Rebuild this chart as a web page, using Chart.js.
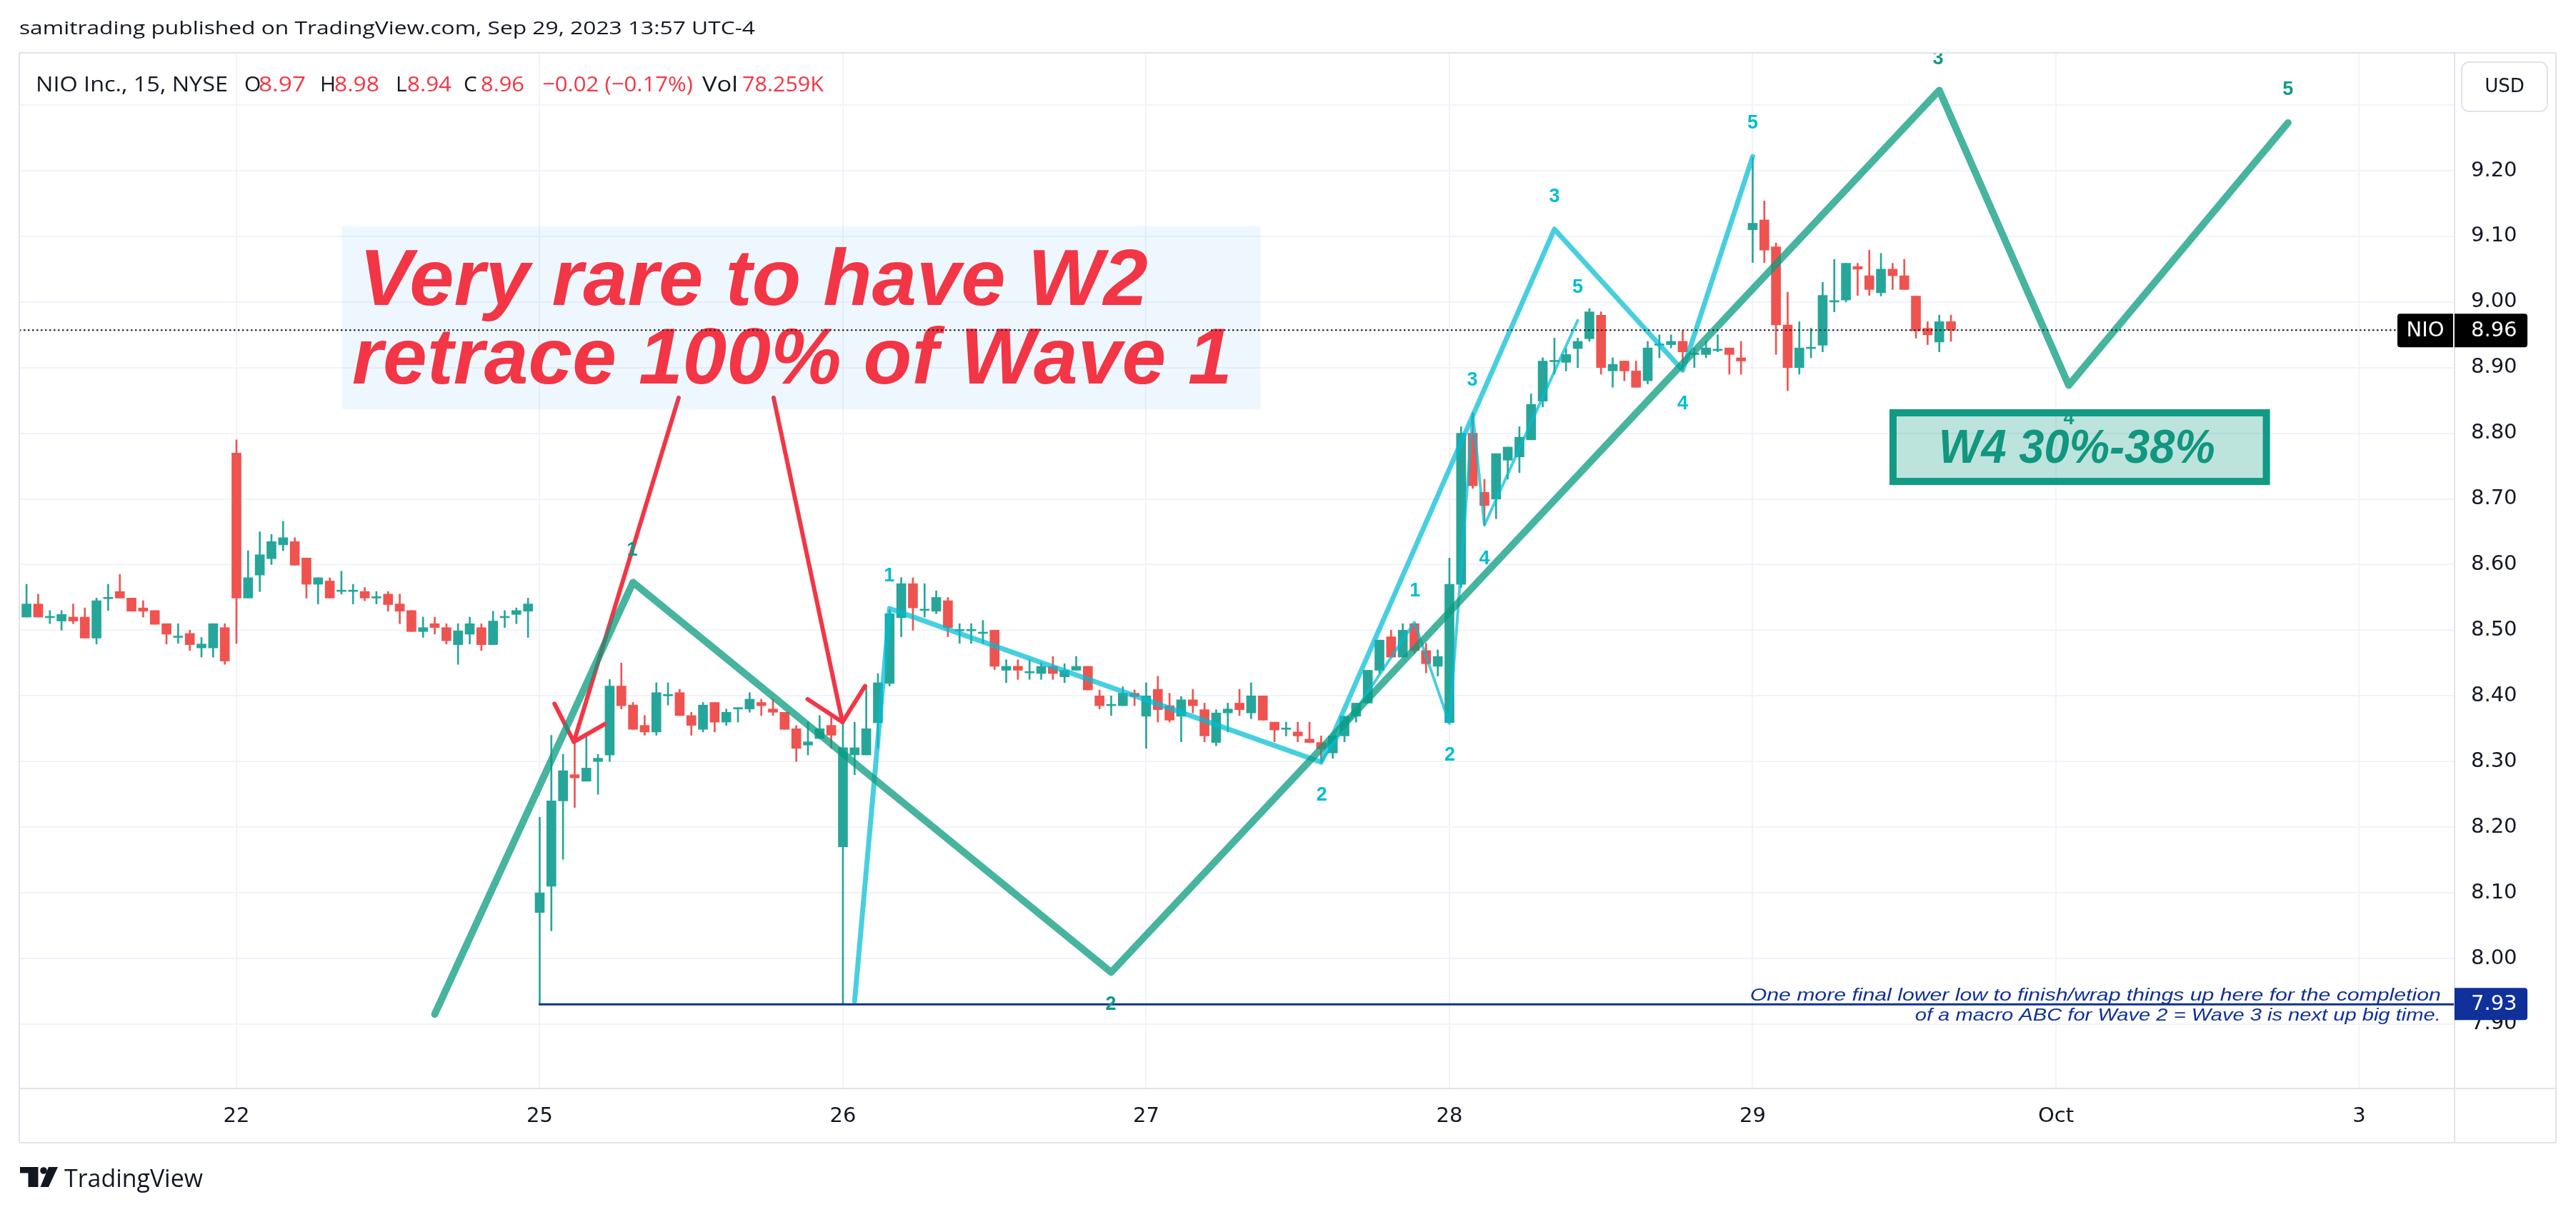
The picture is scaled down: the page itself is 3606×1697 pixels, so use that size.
<!DOCTYPE html>
<html>
<head>
<meta charset="utf-8">
<title>NIO 15m</title>
<script src="https://cdn.jsdelivr.net/npm/chart.js@4.4.0/dist/chart.umd.min.js"></script>
<style>
  html, body { margin: 0; padding: 0; background: #ffffff; }
  canvas { display: block; }
</style>
</head>
<body>
<canvas id="myChart" width="3606" height="1697"></canvas>
<script>
// 15 min bars, Sep 21 (last 18) .. Sep 29 (first 18)
const opens = [
  8.52, 8.54, 8.519, 8.514, 8.52, 8.52, 8.488, 8.548, 8.559, 8.549, 8.534, 8.53, 8.51, 8.489, 8.495, 8.473, 8.473, 8.504,
  8.77, 8.549, 8.584, 8.609, 8.63, 8.635, 8.61, 8.57, 8.575, 8.559, 8.559, 8.559, 8.549, 8.555, 8.54, 8.53, 8.498, 8.51, 8.504, 8.478, 8.494, 8.504, 8.478, 8.519, 8.524, 8.529,
  8.07, 8.11, 8.24, 8.28, 8.27, 8.30, 8.31, 8.415, 8.386, 8.355, 8.345, 8.40, 8.405, 8.37, 8.349, 8.39, 8.36, 8.38, 8.38, 8.39, 8.38, 8.375, 8.35, 8.325, 8.335, 8.355,
  8.17, 8.31, 8.31, 8.359, 8.419, 8.519, 8.571, 8.53, 8.529, 8.545, 8.499, 8.499, 8.495, 8.50, 8.439, 8.445, 8.435, 8.434, 8.445, 8.429, 8.439, 8.445, 8.40, 8.385, 8.385, 8.404,
  8.369, 8.41, 8.385, 8.369, 8.394, 8.379, 8.329, 8.374, 8.389, 8.374, 8.40, 8.36, 8.349, 8.345, 8.334, 8.329, 8.313, 8.339, 8.369, 8.389, 8.439, 8.49, 8.459, 8.51, 8.469, 8.445,
  8.359, 8.57, 8.80, 8.71, 8.70, 8.759, 8.764, 8.79, 8.849, 8.909, 8.908, 8.929, 8.944, 8.98, 8.895, 8.91, 8.895, 8.88, 8.934, 8.935, 8.94, 8.92, 8.92, 8.926, 8.93, 8.915,
  9.11, 9.125, 9.084, 8.965, 8.90, 8.929, 8.934, 9.0, 9.003, 9.054, 9.04, 9.014, 9.05, 9.04, 9.009, 8.96, 8.939, 8.97
];
const highs = [
  8.57, 8.555, 8.53, 8.53, 8.54, 8.534, 8.549, 8.57, 8.585, 8.549, 8.545, 8.53, 8.51, 8.51, 8.50, 8.489, 8.51, 8.51,
  8.79, 8.621, 8.65, 8.646, 8.666, 8.641, 8.61, 8.58, 8.58, 8.59, 8.57, 8.565, 8.559, 8.559, 8.555, 8.53, 8.52, 8.52, 8.51, 8.51, 8.52, 8.51, 8.529, 8.53, 8.534, 8.549,
  8.215, 8.34, 8.311, 8.328, 8.34, 8.311, 8.425, 8.45, 8.39, 8.37, 8.42, 8.42, 8.41, 8.375, 8.39, 8.39, 8.38, 8.382, 8.405, 8.395, 8.395, 8.375, 8.355, 8.36, 8.37, 8.37,
  8.36, 8.36, 8.415, 8.434, 8.531, 8.58, 8.58, 8.571, 8.56, 8.55, 8.51, 8.51, 8.515, 8.50, 8.455, 8.455, 8.455, 8.45, 8.46, 8.449, 8.46, 8.445, 8.409, 8.40, 8.414, 8.409,
  8.42, 8.43, 8.404, 8.399, 8.41, 8.389, 8.379, 8.389, 8.41, 8.42, 8.40, 8.36, 8.36, 8.36, 8.36, 8.339, 8.339, 8.369, 8.389, 8.439, 8.485, 8.50, 8.51, 8.51, 8.48, 8.47,
  8.61, 8.81, 8.83, 8.73, 8.769, 8.779, 8.81, 8.86, 8.915, 8.945, 8.929, 8.945, 8.99, 8.985, 8.915, 8.91, 8.91, 8.94, 8.95, 8.95, 8.956, 8.93, 8.94, 8.95, 8.93, 8.94,
  9.22, 9.154, 9.09, 9.015, 8.97, 8.96, 9.03, 9.065, 9.059, 9.059, 9.079, 9.074, 9.059, 9.065, 9.009, 8.97, 8.98, 8.98
];
const lows = [
  8.52, 8.52, 8.51, 8.50, 8.51, 8.488, 8.479, 8.53, 8.549, 8.529, 8.52, 8.509, 8.479, 8.48, 8.469, 8.459, 8.459, 8.448,
  8.48, 8.549, 8.559, 8.60, 8.621, 8.599, 8.549, 8.54, 8.549, 8.555, 8.54, 8.545, 8.54, 8.529, 8.51, 8.498, 8.489, 8.494, 8.479, 8.448, 8.479, 8.469, 8.478, 8.504, 8.51, 8.489,
  7.93, 8.042, 8.151, 8.23, 8.27, 8.25, 8.30, 8.38, 8.349, 8.34, 8.34, 8.386, 8.37, 8.34, 8.345, 8.345, 8.355, 8.36, 8.375, 8.37, 8.37, 8.349, 8.30, 8.31, 8.335, 8.32,
  7.93, 8.28, 8.31, 8.32, 8.415, 8.49, 8.50, 8.52, 8.525, 8.49, 8.48, 8.48, 8.48, 8.44, 8.42, 8.425, 8.425, 8.425, 8.425, 8.42, 8.439, 8.409, 8.38, 8.37, 8.385, 8.385,
  8.32, 8.36, 8.36, 8.33, 8.374, 8.33, 8.324, 8.345, 8.37, 8.365, 8.363, 8.33, 8.339, 8.33, 8.329, 8.30, 8.305, 8.33, 8.36, 8.389, 8.434, 8.459, 8.459, 8.465, 8.435, 8.43,
  8.359, 8.565, 8.716, 8.66, 8.67, 8.73, 8.74, 8.79, 8.84, 8.89, 8.895, 8.90, 8.94, 8.89, 8.87, 8.88, 8.87, 8.875, 8.915, 8.93, 8.895, 8.90, 8.915, 8.924, 8.89, 8.89,
  9.06, 9.06, 8.92, 8.865, 8.89, 8.915, 8.924, 8.985, 9.0, 9.01, 9.01, 9.009, 9.019, 9.019, 8.945, 8.935, 8.924, 8.94
];
const closes = [
  8.54, 8.52, 8.521, 8.524, 8.514, 8.488, 8.545, 8.549, 8.549, 8.529, 8.529, 8.509, 8.494, 8.49, 8.478, 8.479, 8.51, 8.453,
  8.549, 8.58, 8.615, 8.635, 8.641, 8.599, 8.57, 8.58, 8.549, 8.56, 8.56, 8.549, 8.55, 8.539, 8.529, 8.498, 8.504, 8.504, 8.484, 8.499, 8.51, 8.478, 8.514, 8.52, 8.53, 8.54,
  8.10, 8.24, 8.286, 8.275, 8.29, 8.305, 8.415, 8.385, 8.349, 8.345, 8.405, 8.401, 8.37, 8.355, 8.386, 8.36, 8.375, 8.381, 8.395, 8.385, 8.375, 8.349, 8.32, 8.33, 8.35, 8.34,
  8.321, 8.321, 8.35, 8.42, 8.525, 8.571, 8.534, 8.531, 8.55, 8.504, 8.50, 8.50, 8.496, 8.445, 8.445, 8.439, 8.436, 8.445, 8.434, 8.439, 8.445, 8.409, 8.385, 8.386, 8.404, 8.399,
  8.40, 8.379, 8.363, 8.394, 8.385, 8.339, 8.374, 8.38, 8.379, 8.40, 8.363, 8.348, 8.35, 8.339, 8.329, 8.319, 8.339, 8.369, 8.389, 8.439, 8.485, 8.459, 8.50, 8.469, 8.449, 8.46,
  8.57, 8.80, 8.72, 8.69, 8.769, 8.779, 8.794, 8.844, 8.91, 8.91, 8.92, 8.94, 8.985, 8.90, 8.905, 8.895, 8.87, 8.93, 8.935, 8.94, 8.924, 8.921, 8.93, 8.927, 8.92, 8.91,
  9.12, 9.079, 8.965, 8.90, 8.93, 8.93, 9.01, 9.001, 9.059, 9.05, 9.019, 9.05, 9.04, 9.019, 8.956, 8.95, 8.97, 8.957
];

// time axis (bar index) and price axis ticks
const dayTicks = [18, 44, 70, 96, 122, 148, 174, 200];
const dayLabels = ['22', '25', '26', '27', '28', '29', 'Oct', '3'];
const priceTicks = [7.9, 8.0, 8.1, 8.2, 8.3, 8.4, 8.5, 8.6, 8.7, 8.8, 8.9, 9.0, 9.1, 9.2, 9.3];

// elliott wave drawings (bar index, price)
const greenWaveX = [35, 52, 93, 164, 175.1, 193.9];
const greenWaveY = [7.915, 8.573, 7.979, 9.3225, 8.873, 9.273];
const cyanOuterX = [71, 74, 111, 131, 142, 148];
const cyanOuterY = [7.935, 8.533, 8.299, 9.111, 8.896, 9.2216];
const cyanInnerX = [111, 119, 122, 124, 125, 133];
const cyanInnerY = [8.299, 8.512, 8.358, 8.83, 8.66, 8.972];

const waveNames = ['1', '2', '3', '4', '5'];
const greenLabelX = [51.93, 92.97, 163.89, 175.1, 193.9];
const greenLabelY = [8.622, 7.930, 9.370, 8.822, 9.323];
const cyanOuterLabelX = [73.97, 111.06, 131.0, 142.0, 148.0];
const cyanOuterLabelY = [8.582, 8.249, 9.160, 8.845, 9.272];
const cyanInnerLabelX = [119.04, 122.03, 123.96, 125.0, 133.0];
const cyanInnerLabelY = [8.560, 8.310, 8.881, 8.609, 9.022];

// red arrows from the note
const arrow1X = [55.91, 46.93];
const arrow1Y = [8.854, 8.330];
const head1X = [45.27, 46.93, 49.57];
const head1Y = [8.388, 8.330, 8.357];
const arrow2X = [64.06, 69.96];
const arrow2Y = [8.854, 8.360];
const head2X = [66.97, 69.96, 71.89];
const head2Y = [8.395, 8.360, 8.415];

// low level line
const lowLevel = 7.93;
const lowLineX = [44, 208.18];

// notes
const noteBoxX = [27.05, 105.8];
const noteBoxY = [9.1155, 8.8362];
const noteLines = ['Very rare to have W2', 'retrace 100% of Wave 1'];
const w4BoxX = [159.73, 192.35];
const w4BoxY = [8.8366, 8.7212];
const w4Text = 'W4 30%-38%';
const lowNote = ['One more final lower low to finish/wrap things up here for the completion',
                 'of a macro ABC for Wave 2 = Wave 3 is next up big time.'];

const upColor = '#26a69a';
const downColor = '#ef5350';
const axisFont = '29px "DejaVu Sans"';

const idx = opens.map((v, i) => i);
const barColors = idx.map(i => closes[i] >= opens[i] ? upColor : downColor);
function pts(xs, ys) {
  return xs.map((v, i) => ({ x: v, y: ys[i] }));
}
function lineSet(data, color, width, order) {
  return {
    type: 'line', data: data, borderColor: color, borderWidth: width,
    pointRadius: 0, tension: 0, fill: false, order: order,
    borderCapStyle: 'round', borderJoinStyle: 'round'
  };
}

function fitText(ctx, text, x, y, font, color, width, align) {
  ctx.save();
  ctx.font = font;
  ctx.fillStyle = color;
  ctx.textBaseline = 'alphabetic';
  ctx.textAlign = 'left';
  const w = ctx.measureText(text).width;
  const s = width ? width / w : 1;
  let left = x;
  if (align === 'right') left = x - w * s;
  if (align === 'center') left = x - w * s / 2;
  ctx.translate(left, y);
  ctx.scale(s, 1);
  ctx.fillText(text, 0, 0);
  ctx.restore();
}

function roundBox(ctx, x, y, w, h, r, fill) {
  ctx.beginPath();
  ctx.roundRect(x, y, w, h, r);
  ctx.fillStyle = fill;
  ctx.fill();
}

function drawLabels(ctx, xs, ys, color, px, py) {
  ctx.save();
  ctx.font = 'bold 27px "Liberation Sans"';
  ctx.fillStyle = color;
  ctx.textAlign = 'center';
  ctx.textBaseline = 'middle';
  xs.forEach((v, i) => ctx.fillText(waveNames[i], px(v), py(ys[i])));
  ctx.restore();
}

// notes, labels and boxes on top of the bars and lines
const drawings = {
  id: 'drawings',
  afterDatasetsDraw(chart) {
    const ctx = chart.ctx;
    const px = v => chart.scales.x.getPixelForValue(v);
    const py = v => chart.scales.y.getPixelForValue(v);
    const area = chart.chartArea;

    ctx.save();
    ctx.beginPath();
    ctx.rect(area.left, area.top, area.right - area.left, area.bottom - area.top);
    ctx.clip();

    drawLabels(ctx, cyanOuterLabelX, cyanOuterLabelY, '#00bcd4', px, py);
    drawLabels(ctx, cyanInnerLabelX, cyanInnerLabelY, '#00bcd4', px, py);
    drawLabels(ctx, greenLabelX, greenLabelY, '#119a85', px, py);

    // note box
    const nx = px(noteBoxX[0]), ny = py(noteBoxY[0]);
    const nw = px(noteBoxX[1]) - nx, nh = py(noteBoxY[1]) - ny;
    ctx.fillStyle = 'rgba(33,150,243,0.08)';
    ctx.fillRect(nx, ny, nw, nh);
    fitText(ctx, noteLines[0], nx + 24, ny + 110, 'italic bold 112px "Liberation Sans"', '#f23645', 1104);
    fitText(ctx, noteLines[1], nx + 14, ny + 220, 'italic bold 112px "Liberation Sans"', '#f23645', 1232);

    // W4 box
    const bx = px(w4BoxX[0]), by = py(w4BoxY[0]);
    const bw = px(w4BoxX[1]) - bx, bh = py(w4BoxY[1]) - by;
    ctx.fillStyle = 'rgba(18,154,132,0.28)';
    ctx.fillRect(bx, by, bw, bh);
    ctx.strokeStyle = '#129a84';
    ctx.lineWidth = 10;
    ctx.strokeRect(bx + 5, by + 5, bw - 10, bh - 10);
    fitText(ctx, w4Text, bx + bw / 2 - 4, by + 75, 'italic bold 66px "Liberation Sans"', '#11967f', 387, 'center');

    // low note text
    const ly = py(lowLevel);
    const lr = px(207.0);
    fitText(ctx, lowNote[0], lr, ly - 5, 'italic 24px "Liberation Sans"', '#10309a', 967, 'right');
    fitText(ctx, lowNote[1], lr, ly + 23, 'italic 24px "Liberation Sans"', '#10309a', 736, 'right');
    ctx.restore();
  },
  afterDraw(chart) {
    const ctx = chart.ctx;
    const py = v => chart.scales.y.getPixelForValue(v);
    const area = chart.chartArea;
    const last = closes.length - 1;
    const cy = py(closes[last]);

    // last price dotted line
    ctx.save();
    ctx.strokeStyle = '#131722';
    ctx.lineWidth = 2;
    ctx.setLineDash([2.5, 3.5]);
    ctx.beginPath();
    ctx.moveTo(area.left, cy);
    ctx.lineTo(3356, cy);
    ctx.stroke();
    ctx.restore();

    // pane frame
    ctx.save();
    ctx.strokeStyle = '#e0e3eb';
    ctx.lineWidth = 2;
    ctx.beginPath();
    ctx.moveTo(27, 74); ctx.lineTo(3578, 74);
    ctx.moveTo(27, 74); ctx.lineTo(27, 1600);
    ctx.moveTo(3578, 74); ctx.lineTo(3578, 1600);
    ctx.moveTo(27, 1600); ctx.lineTo(3578, 1600);
    ctx.moveTo(27, area.bottom); ctx.lineTo(3578, area.bottom);
    ctx.moveTo(area.right, 74); ctx.lineTo(area.right, 1600);
    ctx.stroke();
    ctx.restore();

    // price axis tags
    ctx.save();
    roundBox(ctx, 3356, cy - 23, 78, 47, [4, 0, 0, 4], '#000000');
    roundBox(ctx, 3436, cy - 23, 102, 47, [0, 4, 4, 0], '#000000');
    const ly = py(lowLevel);
    roundBox(ctx, 3436, ly - 23, 102, 45, [0, 4, 4, 0], '#10309a');
    ctx.font = axisFont;
    ctx.fillStyle = '#ffffff';
    ctx.textBaseline = 'middle';
    ctx.textAlign = 'center';
    ctx.fillText('NIO', 3395, cy + 1);
    ctx.textAlign = 'left';
    ctx.fillText(closes[last].toFixed(2), 3459, cy + 1);
    ctx.fillText(lowLevel.toFixed(2), 3459, ly);

    // currency button
    ctx.beginPath();
    ctx.roundRect(3446, 87, 120, 69, 10);
    ctx.fillStyle = '#ffffff';
    ctx.fill();
    ctx.strokeStyle = '#e0e3eb';
    ctx.lineWidth = 2;
    ctx.stroke();
    ctx.fillStyle = '#131722';
    ctx.textAlign = 'center';
    ctx.font = '26px "DejaVu Sans"';
    ctx.fillText('USD', 3506, 122);
    ctx.restore();

    // header
    const dark = '#131722', red = '#f23645';
    fitText(ctx, 'samitrading published on TradingView.com, Sep 29, 2023 13:57 UTC-4', 27, 48, '25px "Open Sans"', dark, 1030);
    const hf = '30px "Open Sans"';
    fitText(ctx, 'NIO Inc., 15, NYSE', 50, 128, hf, dark, 269);
    fitText(ctx, 'O', 342, 128, hf, dark);
    fitText(ctx, opens[last].toFixed(2), 362, 128, hf, red, 66);
    fitText(ctx, 'H', 448, 128, hf, dark);
    fitText(ctx, highs[last].toFixed(2), 468, 128, hf, red, 63);
    fitText(ctx, 'L', 554, 128, hf, dark);
    fitText(ctx, lows[last].toFixed(2), 570, 128, hf, red, 62);
    fitText(ctx, 'C', 649, 128, hf, dark);
    fitText(ctx, closes[last].toFixed(2), 673, 128, hf, red, 61);
    fitText(ctx, '\u22120.02 (\u22120.17%)', 759, 128, hf, red, 211);
    fitText(ctx, 'Vol', 983, 128, hf, dark, 50);
    fitText(ctx, '78.259K', 1039, 128, hf, red, 114);

    // footer logo
    ctx.save();
    ctx.fillStyle = dark;
    ctx.fillRect(28, 1634, 25, 8.5);
    ctx.fillRect(39.5, 1634, 14, 28);
    ctx.beginPath();
    ctx.arc(61, 1639, 4.8, 0, Math.PI * 2);
    ctx.fill();
    ctx.beginPath();
    ctx.moveTo(68, 1634); ctx.lineTo(81, 1634); ctx.lineTo(68, 1662); ctx.lineTo(56.5, 1662);
    ctx.closePath();
    ctx.fill();
    ctx.restore();
    fitText(ctx, 'TradingView', 90, 1662, '35px "Open Sans"', dark, 194);
  }
};

const ctx = document.getElementById('myChart');

const myChart = new Chart(ctx, {
  type: 'bar',
  data: {
    datasets: [
      {
        label: 'wick',
        data: idx.map(i => ({ x: i, y: [lows[i], highs[i]] })),
        backgroundColor: barColors,
        barThickness: 2,
        grouped: false,
        order: 10
      },
      {
        label: 'body',
        data: idx.map(i => ({ x: i, y: [opens[i], closes[i]] })),
        backgroundColor: barColors,
        barThickness: 13,
        minBarLength: 2,
        grouped: false,
        order: 9
      },
      lineSet(pts(lowLineX, [lowLevel, lowLevel]), '#10309a', 3, 8),
      lineSet(pts(cyanOuterX, cyanOuterY), 'rgba(0,188,212,0.72)', 7, 6),
      lineSet(pts(cyanInnerX, cyanInnerY), 'rgba(0,188,212,0.72)', 4, 5),
      lineSet(pts(arrow1X, arrow1Y), '#f23645', 6, 4),
      lineSet(pts(head1X, head1Y), '#f23645', 6, 4),
      lineSet(pts(arrow2X, arrow2Y), '#f23645', 6, 4),
      lineSet(pts(head2X, head2Y), '#f23645', 6, 4),
      lineSet(pts(greenWaveX, greenWaveY), 'rgba(10,155,128,0.75)', 10, 2)
    ]
  },
  options: {
    responsive: false,
    animation: false,
    devicePixelRatio: 1,
    layout: { padding: { left: 27, top: 74, right: 28, bottom: 97 } },
    plugins: { legend: { display: false }, tooltip: { enabled: false } },
    scales: {
      x: {
        type: 'linear',
        min: -0.62,
        max: 208.18,
        offset: false,
        afterBuildTicks: s => { s.ticks = dayTicks.map(v => ({ value: v })); },
        afterFit: s => { s.height = 76; },
        grid: { color: '#f0f3fa', lineWidth: 2, drawTicks: false, offset: false },
        border: { display: false },
        ticks: {
          autoSkip: false, maxRotation: 0, padding: 22, color: '#131722',
          font: { family: 'DejaVu Sans', size: 29 },
          callback: v => dayLabels[dayTicks.indexOf(v)]
        }
      },
      y: {
        type: 'linear',
        position: 'right',
        min: 7.802,
        max: 9.3795,
        afterBuildTicks: s => { s.ticks = priceTicks.map(v => ({ value: v })); },
        afterFit: s => { s.width = 142; },
        grid: { color: '#f0f3fa', lineWidth: 2, drawTicks: false },
        border: { display: false },
        ticks: {
          padding: 23, crossAlign: 'near', color: '#131722',
          font: { family: 'DejaVu Sans', size: 29 },
          callback: v => v > 9.25 ? '' : v.toFixed(2)
        }
      }
    }
  },
  plugins: [drawings]
});
</script>
</body>
</html>
